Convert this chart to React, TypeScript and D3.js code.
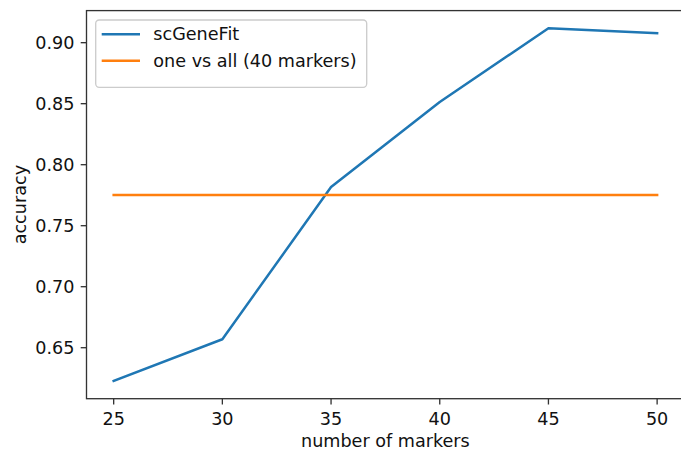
import React from "react";
import * as d3 from "d3";

const markerCounts = [25, 30, 35, 40, 45, 50];
const scGeneFitAccuracy = [0.6227, 0.6569, 0.7817, 0.8514, 0.9118, 0.9077];
const oneVsAllAccuracy = [0.7752, 0.7752, 0.7752, 0.7752, 0.7752, 0.7752];
const xTicks = [25, 30, 35, 40, 45, 50];
const yTicks = [0.65, 0.7, 0.75, 0.8, 0.85, 0.9];
const seriesNames = ["scGeneFit", "one vs all (40 markers)"];
const seriesColors = ["#1f77b4", "#ff7f0e"];

const W = 681;
const H = 453;
const left = 86.5;
const right = 684.3;
const top = 10.6;
const bottom = 398.7;
const font = "DejaVu Sans";
const fs = 17.6;

export default function App() {
  const x = d3.scaleLinear().domain([23.75, 51.25]).range([left, right]);
  const y = d3.scaleLinear().domain([0.6082, 0.9263]).range([bottom, top]);
  const line = d3
    .line<[number, number]>()
    .x((d) => x(d[0]))
    .y((d) => y(d[1]));
  const series = [scGeneFitAccuracy, oneVsAllAccuracy];

  return (
    <svg
      width={W}
      height={H}
      style={{ position: "absolute", left: 0, top: 0, background: "#fff" }}
      fontFamily={font}
    >
      <defs>
        <clipPath id="plotArea">
          <rect x={left} y={top} width={right - left} height={bottom - top} />
        </clipPath>
      </defs>
      <g clipPath="url(#plotArea)">
        {series.map((vals, i) => (
          <path
            key={i}
            d={line(markerCounts.map((m, j) => [m, vals[j]]))!}
            fill="none"
            stroke={seriesColors[i]}
            strokeWidth={2.5}
            strokeLinecap="square"
            strokeLinejoin="round"
          />
        ))}
      </g>
      {/* spines */}
      <rect
        x={left}
        y={top}
        width={right - left}
        height={bottom - top}
        fill="none"
        stroke="#333"
        strokeWidth={1.33}
      />
      {/* x axis */}
      {xTicks.map((t) => (
        <g key={t}>
          <line x1={x(t)} x2={x(t)} y1={bottom} y2={bottom + 5.8} stroke="#333" strokeWidth={1.33} />
          <text x={x(t)} y={bottom + 26.5} textAnchor="middle" fontSize={fs} fill="#111">
            {t}
          </text>
        </g>
      ))}
      {/* y axis */}
      {yTicks.map((t) => (
        <g key={t}>
          <line x1={left - 5.8} x2={left} y1={y(t)} y2={y(t)} stroke="#333" strokeWidth={1.33} />
          <text x={left - 12} y={y(t)} dy="0.35em" textAnchor="end" fontSize={fs} fill="#111">
            {t.toFixed(2)}
          </text>
        </g>
      ))}
      <text x={(left + right) / 2} y={447} textAnchor="middle" fontSize={fs} fill="#111">
        number of markers
      </text>
      <text
        transform={`translate(26, ${(top + bottom) / 2}) rotate(-90)`}
        textAnchor="middle"
        fontSize={fs}
        fill="#111"
      >
        accuracy
      </text>
      {/* legend */}
      <rect x={95.7} y={20} width={271} height={67.3} rx={3.5} fill="#fff" fillOpacity={0.8} stroke="#ccc" strokeWidth={1.33} />
      {seriesNames.map((name, i) => (
        <g key={name}>
          <line
            x1={101.7}
            x2={140}
            y1={34.3 + i * 26.4}
            y2={34.3 + i * 26.4}
            stroke={seriesColors[i]}
            strokeWidth={2.5}
          />
          <text x={153.3} y={34.3 + i * 26.4} dy="0.35em" fontSize={fs} fill="#111">
            {name}
          </text>
        </g>
      ))}
    </svg>
  );
}
